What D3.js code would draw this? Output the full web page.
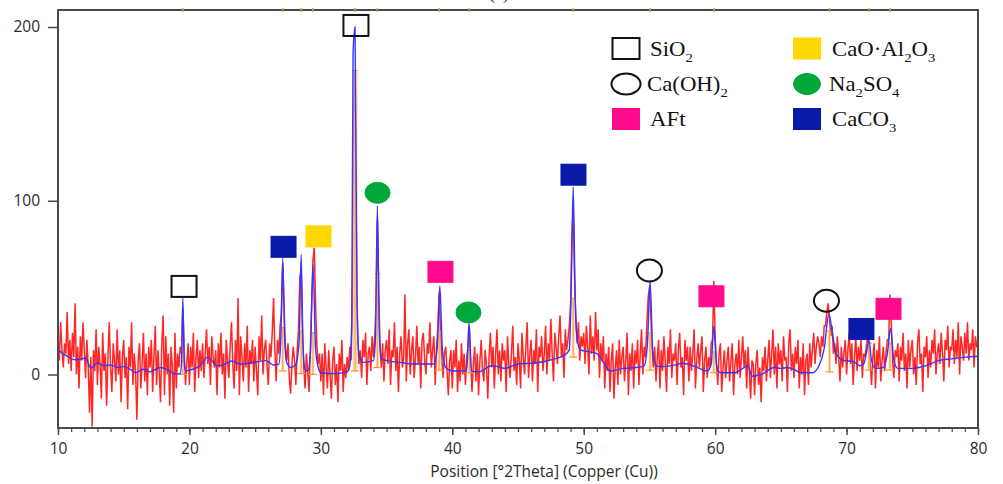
<!DOCTYPE html>
<html>
<head>
<meta charset="utf-8">
<script src="https://cdn.jsdelivr.net/npm/d3@7"></script>
<style>
  html, body { margin: 0; padding: 0; background: #fff; }
  svg { display: block; }
</style>
</head>
<body>
<svg id="chart" width="1003" height="484"></svg>
<script>
// XRD scan, Cu K-alpha, 10-80 deg 2theta, 0.1 deg steps
const scanStart = 10;
const scanStep = 0.1;
const observedCounts = [
  22, 8, 30, 14, 4, 18, 12, 36, 6, 20,
  2, 24, 10, 41, 0, 16, -8, 22, 8, 30,
  14, -2, 20, 4, -22, 10, -30, 14, 2, 26,
  -6, 16, 6, -14, 24, 2, 12, -18, 10, 30,
  4, -10, 18, 8, -4, 26, 0, 14, -16, 10,
  20, -2, 10, -20, 16, 4, 30, -6, 12, 2,
  -26, 8, 18, -8, 6, 24, -4, 12, -12, 16,
  4, 20, -10, 10, 28, -6, 14, 2, -16, 18,
  34, -12, 22, 0, 12, -18, 16, 4, -22, 24,
  -8, 12, 4, 16, 12, 38, 15, -6, 6, 18,
  -6, 16, 4, 24, -10, 10, 20, -2, 14, 2,
  18, -2, 12, 26, 6, 16, -6, 22, 10, 4,
  14, -12, 18, 4, 24, 0, 12, -14, 20, 8,
  -2, 16, 30, 6, -8, 20, 2, 44, -12, 22,
  10, -4, 18, 4, 28, -10, 14, 6, 20, -4,
  16, 2, -12, 22, 8, 34, 0, 14, 20, 6,
  -6, 18, 10, 24, 44, 14, -4, 20, 12, 28,
  35, 64, 40, 16, 8, 18, -2, -11, 6, 16,
  8, -6, 14, 26, 56, 60, 24, 4, -8, 12,
  2, -10, 14, 40, 66, 73, 40, 16, 6, 12,
  -4, 12, -12, 18, 4, -8, 14, 0, -14, 8,
  16, -6, 6, -16, 12, 2, 20, -10, 6, -2,
  10, 2, 16, 8, 38, 150, 175, 85, 22, 6,
  14, -2, 20, 10, 24, -6, 12, 16, 2, 22,
  10, 22, 40, 89, 48, 16, 4, 18, -4, 14,
  20, 6, 26, -6, 14, 10, 30, 2, 16, -10,
  12, 22, 4, 10, 46, -4, 18, 26, 0, 14,
  22, -2, 10, 28, 6, 16, -8, 20, 24, 8,
  0, 18, 12, 30, 4, 14, 22, -6, 16, 26,
  47, 24, 10, -2, 12, 16, 2, -12, 8, 14,
  -8, 14, 4, 20, -10, 8, -4, 18, 0, 12,
  -6, 10, 16, 28, 8, -10, 6, 16, -4, 12,
  -12, 8, 20, 2, -4, 14, 6, -14, 10, 24,
  4, 16, -8, 12, 26, 0, 14, -4, 18, 8,
  14, -10, 22, 6, -2, 12, 28, 2, 10, -6,
  18, 8, -8, 24, 10, 0, 16, 30, -2, 12,
  20, -4, 14, 6, 26, -10, 16, 10, 22, 2,
  12, 28, 0, 18, 8, 32, 12, -4, 24, 16,
  6, 22, 34, 10, 18, -2, 26, 14, 20, 28,
  40, 80, 95, 56, 30, 18, 30, 8, 22, 16,
  24, 6, 28, 16, 0, 34, 12, 22, 8, 36,
  14, 26, -2, 18, 8, 22, -8, 12, 2, 16,
  -10, 8, 18, -14, 4, 14, -6, 20, 0, 10,
  16, -4, 8, 24, -12, 12, 2, 18, -8, 14,
  6, 20, -6, 12, 26, 0, 16, 10, 28, 44,
  50, 35, 15, 4, 16, -4, 10, 20, -8, 14,
  2, 22, 8, -10, 16, 6, 26, -2, 12, 8,
  18, -6, 14, 24, 4, 10, -12, 20, 8, 16,
  -4, 16, 2, 12, 26, -8, 8, 18, 4, 14,
  22, -10, 8, 16, -2, 10, 4, 18, 20, 54,
  22, 6, -6, 12, 18, -10, 4, 14, -2, 8,
  16, -4, 8, 18, -12, 6, 12, 0, 20, -2,
  10, 22, 4, 14, -8, 16, 2, -14, 8, 6,
  -12, 6, 14, -6, 4, -16, 10, 2, 16, -4,
  8, 20, -2, 12, 26, 0, 16, -8, 18, 6,
  14, -4, 22, 8, 10, -10, 18, 26, 2, 12,
  -2, 16, 6, 20, -8, 10, 0, 18, -12, 8,
  12, -6, 18, 4, 14, 24, 6, 16, 22, 18,
  10, 22, 16, 28, 28, 36, 41, 32, 22, 28,
  12, 18, 6, 22, 10, -4, 16, 4, 12, 20,
  0, 14, 24, 6, 18, -6, 10, 22, 2, 16,
  8, 20, -2, 12, 10, 16, 22, 14, 6, -6,
  10, 18, -8, 14, 4, 22, -4, 8, 16, 2,
  12, 20, 20, 46, 30, 8, -2, 14, 10, 18,
  -4, 16, 8, 24, 2, 12, -8, 20, 4, 14,
  20, 0, 10, -6, 18, 26, 6, 12, -10, 16,
  10, 22, -2, 14, 4, 20, 12, 26, 0, 12,
  18, 6, 24, 12, -4, 20, 14, 28, 4, 16,
  14, 26, 6, 20, 10, 30, 0, 22, 16, 8,
  24, 12, 30, 8, 18, 14, 26, 4, 22, 16,
  16
];

// calculated profile [2theta, counts]
const fitProfile = [
  [10, 14], [10.6, 11], [11.3, 8.5], [11.8, 9], [12.1, 9.5], [12.5, 3.7], [13, 6.6],
  [13.5, 5], [14, 5.5], [14.5, 4], [15, 4.5], [15.5, 3], [15.9, 1], [16.5, 3], [17, 1.5],
  [17.8, 4], [18.3, 3], [18.9, 0.3], [19.3, 0.5], [19.4, 8], [19.5, 44], [19.6, 8],
  [19.7, 2], [20, 2.5], [20.8, 5], [21.4, 10], [22.1, 5], [22.7, 6], [23.2, 7.8],
  [23.9, 6], [24.5, 6.5], [25.3, 7.5], [25.8, 8], [26.4, 5.5], [26.8, 6], [26.95, 20],
  [27.1, 67], [27.25, 20], [27.4, 7], [27.7, 4], [28.1, 6], [28.35, 20], [28.5, 69],
  [28.65, 15], [28.8, 3], [29.0, 2], [29.2, 12], [29.4, 63], [29.6, 15], [29.8, 4],
  [30, 1], [31, 0.5], [32, 1.5], [32.2, 5], [32.35, 30], [32.45, 185], [32.6, 200],
  [32.75, 40], [32.9, 12], [33.2, 7], [34, 8], [34.15, 20], [34.3, 97], [34.45, 25],
  [34.6, 9], [35, 8], [36, 7], [37, 6], [38, 6], [38.6, 6], [38.85, 15], [39.05, 51],
  [39.25, 14], [39.5, 4], [40, 2], [40.5, 2], [41.1, 2], [41.27, 30], [41.45, 2],
  [42, 1.5], [43, 5], [43.5, 4.5], [44, 3.5], [45, 6], [46, 6.5], [47, 7.5], [47.8, 9],
  [48.5, 11], [48.9, 14], [49.05, 50], [49.2, 108], [49.35, 45], [49.55, 18], [49.8, 14],
  [50.5, 13], [51, 12], [51.5, 7], [52, 2], [53, 3.5], [54, 4], [54.6, 5], [54.85, 18],
  [55.05, 54], [55.25, 14], [55.5, 5], [56, 4.5], [57, 5.5], [57.5, 6.5], [58.5, 4.5],
  [59.4, 2], [59.7, 6], [59.9, 28], [60.1, 6], [60.4, 1], [61.5, 1], [62.2, 4],
  [62.5, 5], [62.8, -1], [63.5, 0], [64.5, 4], [65, 3.5], [65.5, 4], [66, 3], [66.5, 1],
  [67.4, 1], [67.9, 5], [68.3, 15], [68.65, 35], [68.9, 25], [69.2, 12], [69.8, 8],
  [70.5, 7.5], [71, 5], [71.3, 6], [71.5, 12], [71.7, 20], [71.9, 8], [72.2, 3.5],
  [72.8, 4], [73.1, 12], [73.35, 26.5], [73.6, 8], [73.9, 3.5], [75, 3.5], [75.5, 4],
  [76, 5], [77, 8], [78, 9], [79, 10], [80, 10.5]
];

// reference pattern sticks
const refAngles = [19.5, 27.1, 28.5, 29.4, 32.6, 34.3, 39.0, 41.3, 49.2, 55.05, 59.9, 68.7, 71.7, 73.3];
const refBase   = [0, 2, 0.5, 0, 2, 4, 2.5, 1, 10, 2.5, 1, 1.5, 2.5, 2.5];
const refTop    = [20, 27, 25, 24, 175, 58, 25, 14, 44, 24, 13, 25, 18, 18];

// phase identification
const phaseNames = ["SiO2", "Ca(OH)2", "AFt", "CaO·Al2O3", "Na2SO4", "CaCO3"];
const phaseColors = ["none", "none", "#ff0a8c", "#ffd700", "#00a83c", "#0a1aa8"];
const phaseShapes = ["rect", "ellipse", "rect", "rect", "ellipse", "rect"];
const markerAngles = [19.59, 27.16, 29.82, 32.67, 34.31, 39.10, 41.23, 49.22, 55.0, 59.72, 68.47, 71.13, 73.19];
const markerCounts = [50.7, 73.5, 79.5, 200.9, 104.6, 59.1, 35.7, 115, 59.9, 45, 42.4, 26.2, 37.8];
const markerPhase  = [0, 5, 3, 0, 4, 2, 4, 5, 1, 2, 1, 5, 2];

const xTicks = [10, 20, 30, 40, 50, 60, 70, 80];
const yTicks = [0, 100, 200];
const xTitle = "Position [°2Theta] (Copper (Cu))";

const svg = d3.select("#chart");
const plotLeft = 58, plotRight = 978, plotTop = 10, plotBottom = 428;

const x = d3.scaleLinear().domain([10, 80]).range([plotLeft, plotRight]);
const y = d3.scaleLinear().domain([-30.8, 209.8]).range([plotBottom, plotTop]);

svg.append("defs").append("clipPath").attr("id", "plotClip")
  .append("rect").attr("x", plotLeft).attr("y", plotTop)
  .attr("width", plotRight - plotLeft).attr("height", plotBottom - plotTop);

// panel label, mostly above the page edge
svg.append("text").attr("x", 499).attr("y", -1).attr("text-anchor", "middle")
  .attr("font-family", "Liberation Serif").attr("font-size", 18).attr("fill", "#222").text("(a)");

const plot = svg.append("g").attr("clip-path", "url(#plotClip)");

// observed intensities
const obs = observedCounts.map((v, i) => [scanStart + i * scanStep, v]);
plot.append("path").datum(obs)
  .attr("fill", "none").attr("stroke", "#ff0000").attr("stroke-width", 1.5)
  .attr("stroke-opacity", 0.85)
  .attr("d", d3.line().x(d => x(d[0])).y(d => y(d[1])));

// reference sticks
const orange = "#f59a2e";
refAngles.forEach((a, i) => {
  const cx = x(a);
  const wide = refTop[i] > 100;
  const w = wide ? 5 : 3;
  plot.append("rect").attr("x", cx - w / 2).attr("y", y(refTop[i])).attr("width", w)
    .attr("height", y(refBase[i]) - y(refTop[i])).attr("fill", "#fcc993").attr("fill-opacity", 0.7);
  plot.append("line").attr("x1", cx).attr("x2", cx).attr("y1", y(refBase[i])).attr("y2", y(refTop[i]))
    .attr("stroke", orange).attr("stroke-width", 1).attr("stroke-opacity", 0.9);
  plot.append("line").attr("x1", cx - 4).attr("x2", cx + 4).attr("y1", y(refBase[i])).attr("y2", y(refBase[i]))
    .attr("stroke", orange).attr("stroke-width", 1.2);
  plot.append("line").attr("x1", cx - 3).attr("x2", cx + 3).attr("y1", y(refTop[i])).attr("y2", y(refTop[i]))
    .attr("stroke", orange).attr("stroke-width", 1);
});

// calculated profile
plot.append("path").datum(fitProfile)
  .attr("fill", "none").attr("stroke", "#3535ff").attr("stroke-width", 1.4)
  .attr("d", d3.line().x(d => x(d[0])).y(d => y(d[1])).curve(d3.curveMonotoneX));

// frame
const frameColor = "#4a4a4a";
svg.append("rect").attr("x", plotLeft).attr("y", plotTop)
  .attr("width", plotRight - plotLeft).attr("height", plotBottom - plotTop)
  .attr("fill", "none").attr("stroke", frameColor).attr("stroke-width", 2);

// reference positions along the top edge
refAngles.forEach(a => {
  svg.append("line").attr("x1", x(a)).attr("x2", x(a)).attr("y1", plotTop - 2).attr("y2", plotTop + 2)
    .attr("stroke", orange).attr("stroke-width", 1.5);
});

// axes
const axisFont = "Open Sans";
const xMinor = svg.append("g").attr("transform", `translate(0,${plotBottom})`)
  .call(d3.axisBottom(x).tickValues(d3.range(10, 81, 1)).tickSize(4).tickFormat(""));
xMinor.select(".domain").remove();
xMinor.selectAll("line").attr("stroke", frameColor).attr("stroke-width", 1.2);
const xMajor = svg.append("g").attr("transform", `translate(0,${plotBottom})`)
  .call(d3.axisBottom(x).tickValues(xTicks).tickSize(7).tickPadding(8).tickFormat(d3.format("d")));
xMajor.select(".domain").remove();
xMajor.selectAll("line").attr("stroke", frameColor).attr("stroke-width", 1.5);
xMajor.selectAll("text").attr("font-family", axisFont).attr("font-size", 15.5).attr("fill", "#2a2a2a");

const yAxis = svg.append("g").attr("transform", `translate(${plotLeft},0)`)
  .call(d3.axisLeft(y).tickValues(yTicks).tickSize(10).tickPadding(8).tickFormat(d3.format("d")));
yAxis.select(".domain").remove();
yAxis.selectAll("line").attr("stroke", frameColor).attr("stroke-width", 1.5);
yAxis.selectAll("text").attr("font-family", axisFont).attr("font-size", 15.5).attr("fill", "#2a2a2a");

svg.append("text").attr("x", 544).attr("y", 477).attr("text-anchor", "middle")
  .attr("font-family", axisFont).attr("font-size", 15.5).attr("fill", "#2a2a2a").text(xTitle);

// phase markers
function drawMarker(g, phase, cx, cy, w, h) {
  const fill = phaseColors[phase];
  const hollow = fill === "none";
  const shape = phaseShapes[phase] === "rect"
    ? g.append("rect").attr("x", cx - w / 2).attr("y", cy - h / 2).attr("width", w).attr("height", h)
    : g.append("ellipse").attr("cx", cx).attr("cy", cy).attr("rx", w / 2).attr("ry", h / 2);
  shape.attr("fill", hollow ? "none" : fill)
    .attr("stroke", hollow ? "#111" : fill).attr("stroke-width", hollow ? 2 : 1);
}
const markers = svg.append("g");
markerAngles.forEach((a, i) => {
  const p = markerPhase[i];
  drawMarker(markers, p, x(a), y(markerCounts[i]), 25, p === 1 ? 22 : 21);
});

// legend
const legendCol = [626, 807];
const legendRow = [48.5, 84, 119];
const legendTextX = [650, 832];
const legendFont = "Liberation Serif";
function formula(t, label) {
  // numbers in a formula are set as subscripts
  const parts = label.match(/[0-9]+|[^0-9]+/g);
  let lowered = false;
  parts.forEach(s => {
    if (/^[0-9]+$/.test(s)) {
      t.append("tspan").attr("font-size", 13).attr("dy", lowered ? 0 : 6).text(s);
      lowered = true;
    } else {
      t.append("tspan").attr("font-size", 20).attr("dy", lowered ? -6 : 0).text(s);
      lowered = false;
    }
  });
}
const legend = svg.append("g");
phaseNames.forEach((name, i) => {
  const col = i < 3 ? 0 : 1;
  const row = i % 3;
  drawMarker(legend, i, legendCol[col], legendRow[row], i === 1 ? 29 : 27, 21);
  const tx = legendTextX[col] - (i === 1 || i === 4 ? 3 : 0);
  const t = legend.append("text")
    .attr("transform", `translate(${tx},${legendRow[row] + 7}) scale(1.14,1)`)
    .attr("font-family", legendFont).attr("fill", "#111");
  formula(t, name);
});
</script>
</body>
</html>
